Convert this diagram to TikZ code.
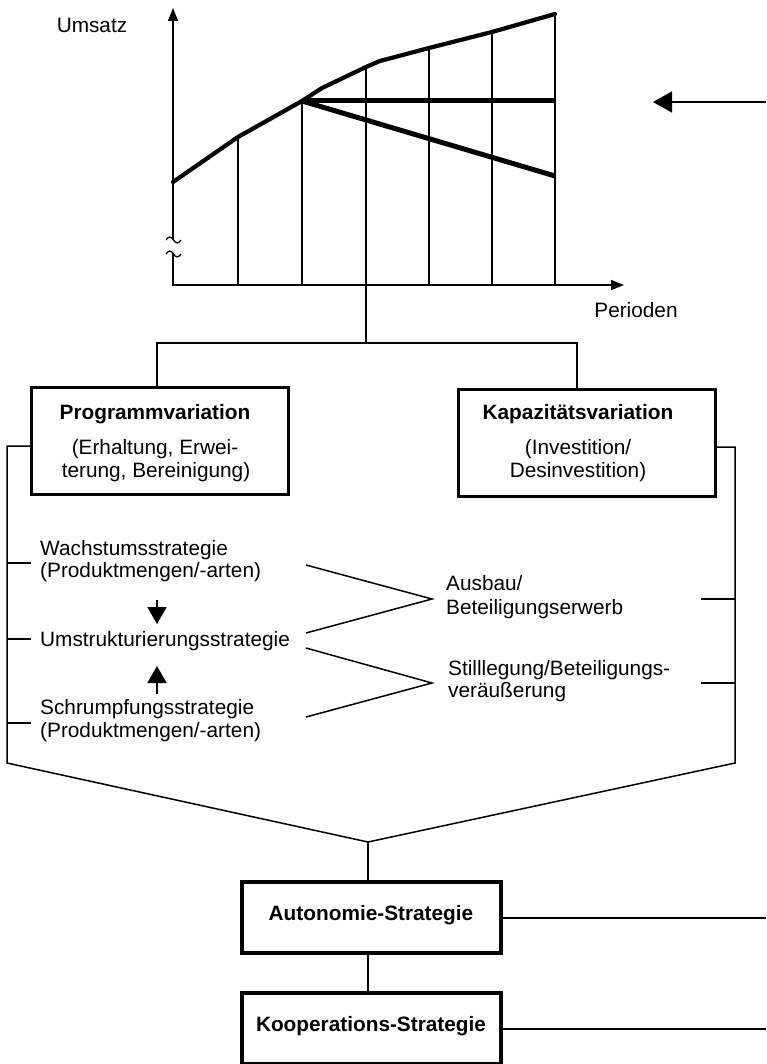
\documentclass[tikz,border=0pt]{standalone}
\usepackage{fontspec}
\setmainfont{Liberation Sans}
\usetikzlibrary{arrows.meta}
\begin{document}
\begin{tikzpicture}[x=1pt,y=-1pt,
  thinline/.style={line width=1.5pt},
  gridline/.style={line width=1.3pt},
  revenue/.style={line width=4.2pt, line join=round, line cap=round},
  branchline/.style={line width=5pt},
  lbl/.style={inner sep=0pt, font=\fontsize{20.8}{23}\selectfont, text height=0.72em, text depth=0.2em},
  lblb/.style={lbl, font=\bfseries\fontsize{20.8}{23}\selectfont},
  boxtop/.style={draw, line width=3pt, inner sep=0pt, minimum width=257pt, minimum height=107pt},
  boxbot/.style={draw, line width=4.8pt, inner sep=0pt, minimum width=259pt, minimum height=71pt},
  bigtip/.style={-{Triangle[length=19pt,width=21pt]}},
  axistip/.style={-{Triangle[length=13pt,width=10pt]}},
  midtip/.style={-{Triangle[length=17pt,width=19pt]}}
]
\useasboundingbox (0,0) rectangle (766,1064);

% ---------- revenue chart ----------
\coordinate (origin) at (173,285);
\coordinate (ytop) at (173,8);
\coordinate (ybreakA) at (173,239);
\coordinate (ybreakB) at (173,253);
\coordinate (xend) at (624,285);

\draw[thinline, axistip] (ybreakA) -- (ytop);
\draw[thinline, axistip] (ybreakB) -- (origin) -- (xend);
% axis break marks
\draw[gridline] (166,240) sin (169.75,237) cos (173.5,240) sin (177.25,243) cos (181,240);
\draw[gridline] (166,254) sin (169.75,251) cos (173.5,254) sin (177.25,257) cos (181,254);

% period lines
\foreach \px/\py in {238/137,302/101,366/67,429/48,492/32,555/14}
  \draw[gridline] (\px,285) -- (\px,\py);

% revenue curves
\draw[revenue] (173,182) -- (238,137) -- (302,101) -- (322,88) -- (366,67)
  -- (380,61) -- (429,48) -- (492,32) -- (555,14);
\coordinate (fork) at (302,101);
\coordinate (flatend) at (555,101);
\coordinate (dropend) at (555,176);
\draw[branchline] (fork) -- (flatend);
\draw[branchline] (fork) -- (dropend);

\node[lbl] (umsatz) at (92,30) {Umsatz};
\node[lbl] (perioden) at (636,315) {Perioden};

% incoming arrow
\coordinate (inR) at (766,102);
\coordinate (inTip) at (653,102);
\draw[thinline, bigtip] (inR) -- (inTip);

% ---------- variation boxes ----------
\node[boxtop] (prog) at (159.5,440.5) {};
\node[boxtop] (kap) at (586.5,443) {};

\node[lblb] (progA) at (155,417) {Programmvariation};
\node[lbl] (progB) at (155,452) {(Erhaltung, Erwei-};
\node[lbl] (progC) at (156,475) {terung, Bereinigung)};

\node[lblb] (kapA) at (578,417) {Kapazitätsvariation};
\node[lbl] (kapB) at (578,452) {(Investition/};
\node[lbl] (kapC) at (578,475) {Desinvestition)};

\coordinate (chartfoot) at (366,285);
\coordinate (split) at (366,343);
\coordinate (progin) at (157,387);
\coordinate (kapin) at (577,389);
\draw[thinline] (chartfoot) -- (split);
\draw[thinline] (progin) |- (split) -| (kapin);

% ---------- strategies ----------
\node[lbl, anchor=west] (wachsA) at (40,553) {Wachstumsstrategie};
\node[lbl, anchor=west] (wachsB) at (40,575) {(Produktmengen/-arten)};
\node[lbl, anchor=west] (umstr) at (40,644) {Umstrukturierungsstrategie};
\node[lbl, anchor=west] (schrA) at (40,712) {Schrumpfungsstrategie};
\node[lbl, anchor=west] (schrB) at (40,735) {(Produktmengen/-arten)};

\node[lbl, anchor=west] (ausA) at (446,588) {Ausbau/};
\node[lbl, anchor=west] (ausB) at (446,612) {Beteiligungserwerb};
\node[lbl, anchor=west] (stilA) at (448,673) {Stilllegung/Beteiligungs-};
\node[lbl, anchor=west] (stilB) at (448,695) {veräußerung};

\coordinate (dnS) at (157,600);
\coordinate (dnT) at (157,624);
\coordinate (upS) at (157,694);
\coordinate (upT) at (157,666);
\draw[thinline, midtip] (dnS) -- (dnT);
\draw[thinline, midtip] (upS) -- (upT);

% links to capacity measures
\coordinate (zA) at (432,599);
\coordinate (zB) at (432,683);
\draw[thinline] (306,565) -- (zA) -- (306,633);
\draw[thinline] (306,648) -- (zB) -- (306,717);

% brackets merging into one line
\coordinate (lb0) at (7,446);
\coordinate (lbE) at (7,763);
\coordinate (apex) at (368,842);
\coordinate (rbE) at (735,763);
\coordinate (rb0) at (735,447);
\draw[thinline] (31,446) -- (lb0) -- (lbE) -- (apex) -- (rbE) -- (rb0) -- (716,447);
\foreach \ty in {563,639,723}
  \draw[thinline] (7,\ty) -- (31,\ty);
\foreach \ty in {599,683}
  \draw[thinline] (701,\ty) -- (735,\ty);

% ---------- autonomy / cooperation ----------
\node[boxbot] (auto) at (371.5,917.5) {};
\node[boxbot] (koop) at (371.5,1028.5) {};
\node[lblb] (autoT) at (371,918) {Autonomie-Strategie};
\node[lblb] (koopT) at (371,1029) {Kooperations-Strategie};

\draw[thinline] (apex) -- (apex |- auto.north);
\draw[thinline] (apex |- auto.south) -- (apex |- koop.north);
\coordinate (autoR) at (766,918);
\coordinate (koopR) at (766,1029);
\draw[thinline] (auto.east |- autoR) -- (autoR);
\draw[thinline] (koop.east |- koopR) -- (koopR);
\end{tikzpicture}
\end{document}
